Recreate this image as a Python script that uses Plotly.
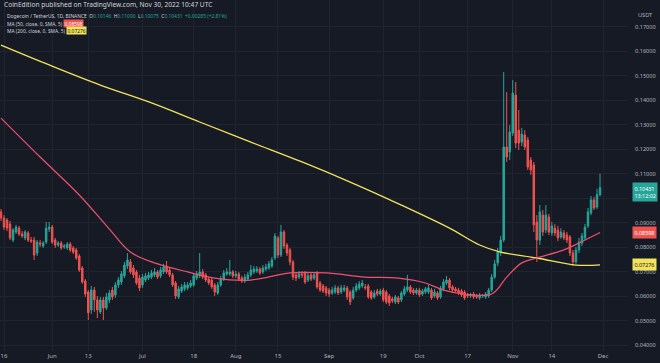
import plotly.graph_objects as go
import pandas as pd

# ---------------- data ----------------
dates = pd.date_range("2022-05-15", "2022-11-30", freq="D")

opens = [0.0944,0.0919,0.0911,0.0895,0.0829,0.0862,0.0878,0.0854,0.0838,0.0858,
         0.0829,0.0829,0.0776,0.0817,0.0805,0.0821,0.0874,0.0882,0.0829,0.0809,
         0.0817,0.0801,0.0797,0.0813,0.0797,0.0789,0.0764,0.0715,0.0662,0.0617,
         0.0544,0.0625,0.0585,0.0536,0.0585,0.0552,0.0585,0.0625,0.0605,0.0646,
         0.0658,0.0683,0.0723,0.0740,0.0715,0.0699,0.0674,0.0646,0.0666,0.0674,
         0.0678,0.0687,0.0699,0.0683,0.0699,0.0723,0.0707,0.0687,0.0654,0.0597,
         0.0621,0.0630,0.0634,0.0642,0.0646,0.0674,0.0683,0.0699,0.0687,0.0670,
         0.0666,0.0646,0.0613,0.0646,0.0670,0.0691,0.0691,0.0699,0.0683,0.0691,
         0.0674,0.0662,0.0670,0.0687,0.0699,0.0703,0.0711,0.0699,0.0711,0.0715,
         0.0723,0.0756,0.0838,0.0768,0.0862,0.0809,0.0789,0.0740,0.0687,0.0678,
         0.0691,0.0695,0.0666,0.0687,0.0674,0.0695,0.0654,0.0642,0.0634,0.0625,
         0.0613,0.0617,0.0634,0.0617,0.0625,0.0634,0.0617,0.0593,0.0625,0.0634,
         0.0642,0.0638,0.0642,0.0617,0.0597,0.0621,0.0609,0.0625,0.0617,0.0601,
         0.0589,0.0576,0.0593,0.0585,0.0609,0.0625,0.0638,0.0625,0.0613,0.0625,
         0.0609,0.0617,0.0617,0.0625,0.0601,0.0613,0.0597,0.0630,0.0654,0.0666,
         0.0638,0.0630,0.0625,0.0621,0.0617,0.0605,0.0601,0.0609,0.0601,0.0593,
         0.0601,0.0597,0.0601,0.0625,0.0678,0.0736,0.0776,0.0829,0.1209,0.1189,
         0.1266,0.1421,0.1278,0.1229,0.1258,0.1238,0.1156,0.1136,0.0903,0.0829,
         0.0931,0.0870,0.0923,0.0858,0.0878,0.0870,0.0842,0.0858,0.0850,0.0842,
         0.0776,0.0740,0.0789,0.0817,0.0838,0.0887,0.0940,0.0993,0.0964,0.10146]

highs = [0.0956,0.0931,0.0919,0.0907,0.0878,0.0891,0.0887,0.0866,0.0870,0.0866,
         0.0842,0.0842,0.0829,0.0829,0.0825,0.0903,0.0903,0.0891,0.0838,0.0825,
         0.0825,0.0813,0.0821,0.0821,0.0805,0.0797,0.0772,0.0723,0.0670,0.0625,
         0.0642,0.0638,0.0601,0.0597,0.0597,0.0613,0.0625,0.0638,0.0658,0.0678,
         0.0703,0.0740,0.0776,0.0752,0.0727,0.0707,0.0687,0.0691,0.0695,0.0699,
         0.0707,0.0715,0.0707,0.0719,0.0732,0.0744,0.0715,0.0695,0.0662,0.0642,
         0.0650,0.0658,0.0658,0.0666,0.0695,0.0703,0.0776,0.0711,0.0695,0.0678,
         0.0674,0.0654,0.0658,0.0683,0.0707,0.0715,0.0748,0.0707,0.0703,0.0699,
         0.0683,0.0691,0.0699,0.0727,0.0723,0.0723,0.0719,0.0727,0.0732,0.0744,
         0.0760,0.0858,0.0846,0.0891,0.0870,0.0817,0.0797,0.0748,0.0699,0.0703,
         0.0703,0.0703,0.0695,0.0695,0.0699,0.0703,0.0662,0.0650,0.0642,0.0634,
         0.0638,0.0646,0.0642,0.0646,0.0646,0.0642,0.0625,0.0638,0.0654,0.0662,
         0.0666,0.0650,0.0650,0.0625,0.0625,0.0630,0.0630,0.0634,0.0625,0.0609,
         0.0597,0.0605,0.0601,0.0621,0.0642,0.0687,0.0646,0.0634,0.0634,0.0634,
         0.0630,0.0638,0.0646,0.0634,0.0630,0.0621,0.0642,0.0670,0.0683,0.0674,
         0.0646,0.0638,0.0634,0.0630,0.0625,0.0613,0.0613,0.0617,0.0609,0.0613,
         0.0609,0.0617,0.0634,0.0691,0.0748,0.0797,0.0846,0.1515,0.1433,0.1299,
         0.1482,0.1474,0.1360,0.1287,0.1278,0.1250,0.1168,0.1148,0.0931,0.0972,
         0.0952,0.0972,0.0936,0.0903,0.0895,0.0887,0.0878,0.0870,0.0862,0.0850,
         0.0789,0.0801,0.0838,0.0858,0.0895,0.0960,0.1009,0.1005,0.1038,0.11000]

lows = [0.0907,0.0870,0.0866,0.0829,0.0821,0.0854,0.0846,0.0838,0.0829,0.0821,
        0.0817,0.0748,0.0764,0.0801,0.0797,0.0813,0.0862,0.0813,0.0797,0.0801,
        0.0789,0.0793,0.0789,0.0780,0.0772,0.0748,0.0699,0.0650,0.0597,0.0503,
        0.0528,0.0536,0.0511,0.0528,0.0503,0.0544,0.0572,0.0585,0.0593,0.0634,
        0.0646,0.0674,0.0711,0.0691,0.0674,0.0646,0.0621,0.0634,0.0658,0.0666,
        0.0670,0.0678,0.0670,0.0674,0.0691,0.0691,0.0678,0.0638,0.0589,0.0589,
        0.0613,0.0621,0.0625,0.0634,0.0638,0.0666,0.0674,0.0670,0.0658,0.0646,
        0.0630,0.0601,0.0605,0.0638,0.0662,0.0683,0.0683,0.0674,0.0674,0.0662,
        0.0654,0.0654,0.0662,0.0678,0.0691,0.0695,0.0687,0.0691,0.0703,0.0707,
        0.0715,0.0748,0.0756,0.0760,0.0793,0.0764,0.0727,0.0666,0.0662,0.0670,
        0.0674,0.0650,0.0658,0.0662,0.0666,0.0630,0.0617,0.0613,0.0601,0.0597,
        0.0605,0.0609,0.0605,0.0609,0.0617,0.0585,0.0564,0.0585,0.0617,0.0625,
        0.0634,0.0625,0.0589,0.0585,0.0589,0.0601,0.0601,0.0576,0.0568,0.0560,
        0.0572,0.0568,0.0568,0.0576,0.0601,0.0617,0.0609,0.0605,0.0605,0.0597,
        0.0601,0.0609,0.0609,0.0585,0.0593,0.0585,0.0589,0.0621,0.0646,0.0625,
        0.0617,0.0613,0.0605,0.0597,0.0585,0.0593,0.0593,0.0589,0.0589,0.0585,
        0.0593,0.0589,0.0593,0.0617,0.0670,0.0723,0.0764,0.0821,0.1148,0.1156,
        0.1254,0.1205,0.1197,0.1213,0.1197,0.1115,0.1095,0.0862,0.0740,0.0809,
        0.0846,0.0858,0.0850,0.0846,0.0846,0.0825,0.0834,0.0829,0.0817,0.0764,
        0.0723,0.0732,0.0776,0.0805,0.0829,0.0878,0.0931,0.0952,0.0956,0.10075]

closes = [0.0919,0.0882,0.0878,0.0838,0.0870,0.0882,0.0854,0.0846,0.0862,0.0829,
          0.0825,0.0768,0.0821,0.0813,0.0817,0.0878,0.0882,0.0821,0.0809,0.0817,
          0.0797,0.0805,0.0813,0.0789,0.0780,0.0756,0.0707,0.0658,0.0609,0.0532,
          0.0625,0.0585,0.0544,0.0585,0.0552,0.0597,0.0613,0.0597,0.0646,0.0666,
          0.0691,0.0727,0.0748,0.0699,0.0687,0.0654,0.0634,0.0678,0.0683,0.0687,
          0.0695,0.0699,0.0678,0.0707,0.0719,0.0699,0.0687,0.0646,0.0601,0.0630,
          0.0638,0.0646,0.0646,0.0654,0.0683,0.0691,0.0699,0.0678,0.0666,0.0654,
          0.0638,0.0617,0.0646,0.0670,0.0695,0.0699,0.0699,0.0683,0.0691,0.0670,
          0.0662,0.0678,0.0687,0.0707,0.0711,0.0711,0.0695,0.0715,0.0719,0.0732,
          0.0748,0.0846,0.0768,0.0862,0.0805,0.0776,0.0740,0.0678,0.0674,0.0691,
          0.0687,0.0658,0.0683,0.0670,0.0687,0.0638,0.0625,0.0621,0.0613,0.0609,
          0.0625,0.0634,0.0613,0.0634,0.0634,0.0597,0.0576,0.0625,0.0642,0.0650,
          0.0654,0.0634,0.0597,0.0593,0.0613,0.0609,0.0621,0.0585,0.0576,0.0572,
          0.0581,0.0597,0.0576,0.0613,0.0630,0.0638,0.0617,0.0613,0.0625,0.0605,
          0.0621,0.0630,0.0634,0.0593,0.0617,0.0593,0.0634,0.0658,0.0666,0.0634,
          0.0625,0.0621,0.0613,0.0605,0.0593,0.0601,0.0605,0.0597,0.0597,0.0605,
          0.0603,0.0609,0.0625,0.0678,0.0732,0.0780,0.0829,0.1209,0.1168,0.1270,
          0.1429,0.1225,0.1225,0.1262,0.1209,0.1127,0.1115,0.0891,0.0829,0.0944,
          0.0862,0.0931,0.0862,0.0887,0.0858,0.0838,0.0862,0.0838,0.0829,0.0776,
          0.0740,0.0789,0.0821,0.0846,0.0882,0.0944,0.0993,0.0960,0.10146,0.10431]

ma_dates = ["2022-05-15","2022-05-28","2022-06-10","2022-06-20","2022-06-27",
            "2022-07-05","2022-07-16","2022-07-25","2022-08-06","2022-08-19",
            "2022-08-31","2022-09-13","2022-09-24","2022-10-03","2022-10-09",
            "2022-10-16","2022-10-25","2022-10-30","2022-11-04","2022-11-09",
            "2022-11-18","2022-11-23","2022-11-30"]
ma50 = [0.1327,0.1168,0.1013,0.0874,0.0780,0.0736,0.0699,0.0674,0.0666,0.0695,
        0.0695,0.0678,0.0674,0.0654,0.0625,0.0609,0.0609,0.0678,0.0736,0.0756,
        0.0789,0.0817,0.08598]

ma200_dates = ["2022-05-15","2022-05-31","2022-06-17","2022-07-04","2022-07-20",
               "2022-08-06","2022-08-23","2022-09-08","2022-09-25","2022-10-11",
               "2022-10-21","2022-10-28","2022-11-09","2022-11-22","2022-11-30"]
ma200 = [0.1625,0.1544,0.1462,0.1389,0.1311,0.1229,0.1148,0.1066,0.0972,0.0878,
         0.0809,0.0780,0.0756,0.0727,0.07276]

price_ticks = [0.04,0.05,0.06,0.07,0.08,0.09,0.10,0.11,0.12,0.13,0.14,0.15,0.16,0.17]
date_ticks = ["2022-05-16","2022-06-01","2022-06-13","2022-07-01","2022-07-18",
              "2022-08-01","2022-08-15","2022-09-01","2022-09-19","2022-10-01",
              "2022-10-17","2022-11-01","2022-11-14","2022-12-01"]
date_labels = ["16","Jun","13","Jul","18","Aug","15","Sep","19","Oct","17","Nov","14","Dec"]

# ---------------- styling ----------------
BG = "#161a25"
GRID = "#20242f"
TXT = "#b2b5be"
UP = "#26a69a"
DN = "#ef5350"
MA50C = "#f0506e"
MA200C = "#f2e35c"
FONT = "Noto Sans"

fig = go.Figure()
fig.add_trace(go.Scatter(x=ma200_dates, y=ma200, mode="lines",
                         line=dict(color=MA200C, width=1.3, shape="spline"),
                         hoverinfo="skip", showlegend=False))
fig.add_trace(go.Scatter(x=ma_dates, y=ma50, mode="lines",
                         line=dict(color=MA50C, width=1.2, shape="spline"),
                         hoverinfo="skip", showlegend=False))
fig.add_trace(go.Candlestick(x=dates, open=opens, high=highs, low=lows, close=closes,
                             increasing=dict(line=dict(color=UP, width=1), fillcolor=UP),
                             decreasing=dict(line=dict(color=DN, width=1), fillcolor=DN),
                             whiskerwidth=0, showlegend=False))

W, H = 660, 363
ML, MR, MT, MB = 0, 32, 0, 12
PW, PH = W - ML - MR, H - MT - MB

fig.update_layout(
    width=W, height=H, margin=dict(l=ML, r=MR, t=MT, b=MB),
    paper_bgcolor=BG, plot_bgcolor=BG,
    font=dict(family=FONT, color=TXT, size=6),
    xaxis=dict(type="date", range=["2022-05-14 16:00", "2022-12-09 07:00"],
               tickvals=date_ticks, ticktext=date_labels, showgrid=True,
               gridcolor=GRID, gridwidth=1, zeroline=False, showline=False,
               rangeslider=dict(visible=False), tickfont=dict(size=6, color=TXT),
               ticks="", ticklabelstandoff=0),
    yaxis=dict(side="right", range=[0.1809 - PH / 2450, 0.1809], tickvals=price_ticks,
               tickformat=".5f", showgrid=True, gridcolor=GRID, gridwidth=1,
               zeroline=False, showline=False, ticks="", ticklabelstandoff=6,
               tickfont=dict(size=5.6, color=TXT)),
)

def px_x(px):
    return (px - ML) / PW

def px_y(py):
    return 1 - (py - MT) / PH

ann = []
ann.append(dict(xref="paper", yref="paper", x=px_x(2), y=px_y(5), xanchor="left",
                yanchor="middle", showarrow=False,
                text="CoinEdition published on TradingView.com, Nov 30, 2022 10:47 UTC",
                font=dict(size=6.6, color="#d1d4dc", family=FONT)))
line1 = ("Dogecoin / TetherUS, 1D, BINANCE  "
         f"O<span style='color:{UP}'>0.10146</span>  H<span style='color:{UP}'>0.11000</span>  "
         f"L<span style='color:{UP}'>0.10075</span>  C<span style='color:{UP}'>0.10431</span>  "
         f"<span style='color:{UP}'>+0.00285 (+2.81%)</span>")
ann.append(dict(xref="paper", yref="paper", x=px_x(5), y=px_y(16), xanchor="left",
                yanchor="middle", showarrow=False, text=line1,
                font=dict(size=4.9, color="#d1d4dc", family=FONT)))
ann.append(dict(xref="paper", yref="paper", x=px_x(5), y=px_y(23.5), xanchor="left",
                yanchor="middle", showarrow=False, text="MA (50, close, 0, SMA, 5)",
                font=dict(size=4.9, color="#d1d4dc", family=FONT)))
ann.append(dict(xref="paper", yref="paper", x=px_x(63), y=px_y(23.5), xanchor="left",
                yanchor="middle", showarrow=False, text="0.08598", bgcolor=DN,
                borderpad=0.5, font=dict(size=4.9, color="#ffffff", family=FONT)))
ann.append(dict(xref="paper", yref="paper", x=px_x(5), y=px_y(30.5), xanchor="left",
                yanchor="middle", showarrow=False, text="MA (200, close, 0, SMA, 5)",
                font=dict(size=4.9, color="#d1d4dc", family=FONT)))
ann.append(dict(xref="paper", yref="paper", x=px_x(66), y=px_y(30.5), xanchor="left",
                yanchor="middle", showarrow=False, text="0.07276", bgcolor=MA200C,
                borderpad=0.5, font=dict(size=4.9, color="#131722", family=FONT)))
# price axis header
ann.append(dict(xref="paper", yref="paper", x=px_x(636), y=px_y(15), xanchor="left",
                yanchor="middle", showarrow=False, text="USDT",
                font=dict(size=5.6, color=TXT, family=FONT)))
# price labels on the axis
ann.append(dict(xref="paper", yref="y", x=px_x(632), y=closes[-1], xanchor="left",
                yanchor="top", yshift=6, showarrow=False, align="left",
                text="0.10431<br>13:12:02", bgcolor=UP, borderpad=1.5,
                font=dict(size=5.4, color="#ffffff", family=FONT)))
ann.append(dict(xref="paper", yref="y", x=px_x(632), y=ma50[-1], xanchor="left",
                yanchor="middle", showarrow=False, text="0.08598", bgcolor=DN,
                borderpad=1.5, font=dict(size=5.4, color="#ffffff", family=FONT)))
ann.append(dict(xref="paper", yref="y", x=px_x(632), y=ma200[-1], xanchor="left",
                yanchor="middle", showarrow=False, text="0.07276", bgcolor=MA200C,
                borderpad=1.5, font=dict(size=5.4, color="#131722", family=FONT)))
fig.update_layout(annotations=ann)

fig.write_html("out.html", config={"displayModeBar": False},
               post_script="document.body.style.margin='0';document.body.style.overflow='hidden';")
